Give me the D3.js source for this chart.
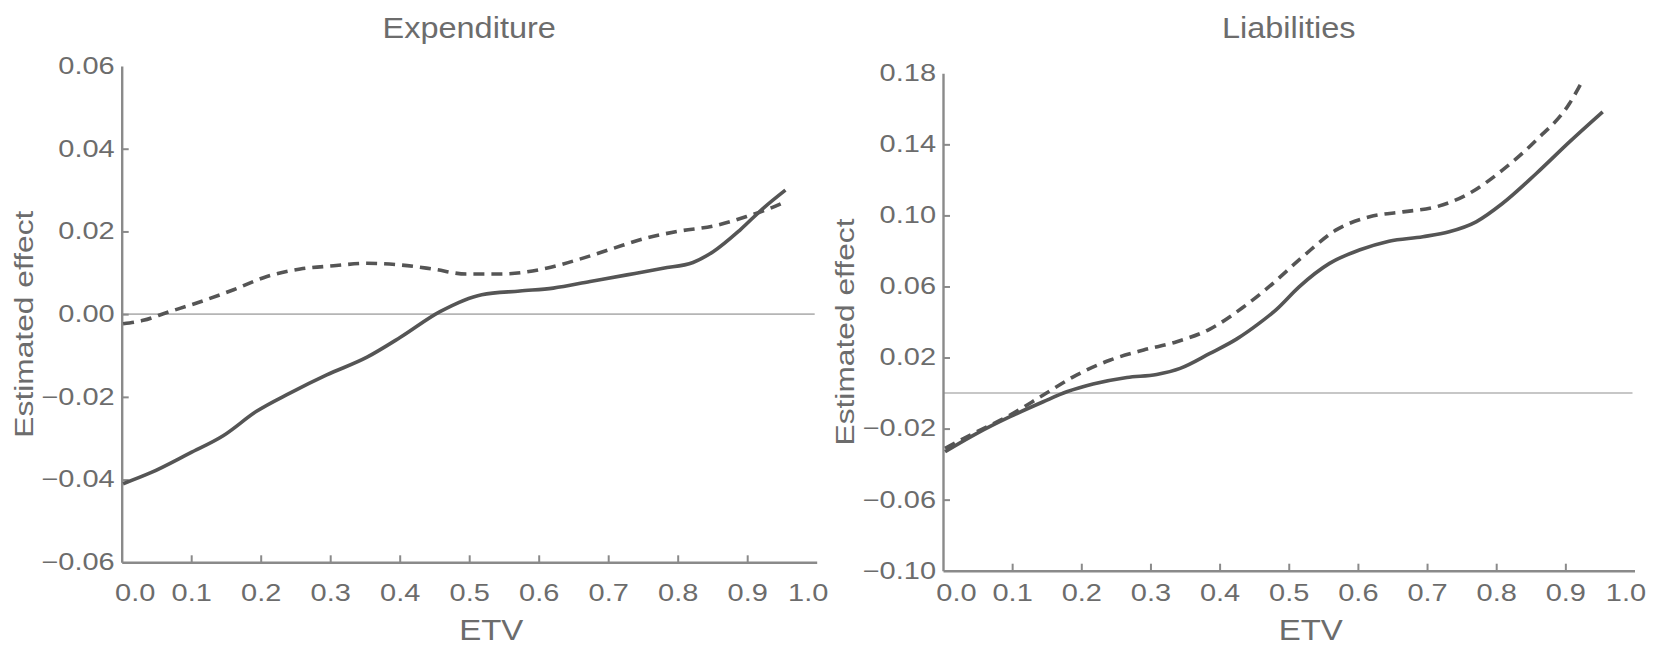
<!DOCTYPE html>
<html>
<head>
<meta charset="utf-8">
<script src="https://cdn.jsdelivr.net/npm/d3@7/dist/d3.min.js"></script>
<style>
  html, body { margin: 0; padding: 0; background: #ffffff; }
  svg { display: block; }
</style>
</head>
<body>
<svg id="chart" width="1656" height="646"></svg>
<script>
// ---------------- DATA ----------------
const panelTitles = ["Expenditure", "Liabilities"];
const xAxisTitle = "ETV";
const yAxisTitle = "Estimated effect";

const xTicks = [0.0, 0.1, 0.2, 0.3, 0.4, 0.5, 0.6, 0.7, 0.8, 0.9, 1.0];
const expYTicks = [-0.06, -0.04, -0.02, 0.00, 0.02, 0.04, 0.06];
const liabYTicks = [-0.10, -0.06, -0.02, 0.02, 0.06, 0.10, 0.14, 0.18];

// Expenditure – solid line
const expSolidETV = [0.002, 0.041, 0.098, 0.146, 0.194, 0.242, 0.295, 0.353, 0.401, 0.458, 0.518, 0.573, 0.621, 0.674, 0.727, 0.779, 0.822, 0.851, 0.890, 0.923, 0.955];
const expSolidEffect = [-0.041, -0.0384, -0.0336, -0.0294, -0.0235, -0.0191, -0.0147, -0.0104, -0.0056, 0.0006, 0.0047, 0.0056, 0.0063, 0.0079, 0.0095, 0.0111, 0.0125, 0.0151, 0.0204, 0.0256, 0.0300];

// Expenditure – dashed line
const expDashETV = [0.002, 0.031, 0.065, 0.108, 0.161, 0.209, 0.257, 0.305, 0.353, 0.401, 0.448, 0.496, 0.544, 0.611, 0.659, 0.707, 0.755, 0.803, 0.851, 0.899, 0.933, 0.955];
const expDashEffect = [-0.0023, -0.0015, 0.0004, 0.0027, 0.0059, 0.0091, 0.0109, 0.0117, 0.0123, 0.0119, 0.0109, 0.0097, 0.0097, 0.0111, 0.0133, 0.0159, 0.0184, 0.0201, 0.0213, 0.0236, 0.0256, 0.0272];

// Liabilities – solid line
const liabSolidETV = [0.003, 0.049, 0.097, 0.145, 0.179, 0.217, 0.266, 0.309, 0.343, 0.386, 0.425, 0.458, 0.482, 0.515, 0.559, 0.602, 0.645, 0.694, 0.732, 0.771, 0.809, 0.858, 0.906, 0.954];
const liabSolidEffect = [-0.033, -0.0227, -0.0133, -0.0049, 0.0007, 0.0051, 0.0088, 0.0105, 0.0139, 0.0223, 0.0305, 0.0395, 0.0470, 0.0598, 0.0730, 0.0805, 0.0855, 0.0880, 0.0908, 0.0964, 0.1067, 0.1236, 0.1414, 0.1583];

// Liabilities – dashed line
const liabDashETV = [0.003, 0.049, 0.097, 0.145, 0.193, 0.242, 0.290, 0.338, 0.386, 0.433, 0.472, 0.520, 0.568, 0.617, 0.665, 0.713, 0.761, 0.809, 0.858, 0.906, 0.925];
const liabDashEffect = [-0.0311, -0.0218, -0.0124, -0.0011, 0.0101, 0.0186, 0.0242, 0.0289, 0.0360, 0.0480, 0.0600, 0.0767, 0.0917, 0.0992, 0.1020, 0.1048, 0.1124, 0.1255, 0.1424, 0.1630, 0.1760];

// ---------------- STYLE / LAYOUT ----------------
const FONT = "'Liberation Sans', Arial, Helvetica, sans-serif";
const TEXT_COLOR = "#6c6c6c";
const AXIS_COLOR = "#8a8a8a";
const LINE_COLOR = "#555555";
const ZERO_COLOR = "#b5b5b5";

const TICK_FS = 23, TICK_SX = 1.26;
const TITLE_FS = 29, TITLE_SX = 1.12;
const XT_FS = 30, XT_SX = 1.1;
const YT_FS = 25, YT_SX = 1.27;

const svg = d3.select("#chart");
svg.append("rect").attr("width", 1656).attr("height", 646).attr("fill", "#fff");

const panels = [
  {
    title: panelTitles[0], left: 121.7, right: 816.7, top: 66, bottom: 562.3, labelPad: 22.5,
    yDomain: [-0.06, 0.06], yTicks: expYTicks,
    series: [
      { x: expSolidETV, y: expSolidEffect, dash: null },
      { x: expDashETV, y: expDashEffect, dash: "11,7" }
    ]
  },
  {
    title: panelTitles[1], left: 943, right: 1634.5, top: 73.3, bottom: 570.7, labelPad: 13.5,
    yDomain: [-0.10, 0.18], yTicks: liabYTicks,
    series: [
      { x: liabSolidETV, y: liabSolidEffect, dash: null },
      { x: liabDashETV, y: liabDashEffect, dash: "11,7" }
    ]
  }
];

panels.forEach(p => {
  const g = svg.append("g");
  const x = d3.scaleLinear().domain([0, 1]).range([p.left, p.right]);
  const y = d3.scaleLinear().domain(p.yDomain).range([p.bottom, p.top]);

  // zero reference line
  g.append("line")
    .attr("x1", x(0)).attr("x2", x(1) - 2)
    .attr("y1", y(0)).attr("y2", y(0))
    .attr("stroke", ZERO_COLOR).attr("stroke-width", 1.6);

  // y axis
  const yAxis = d3.axisLeft(y)
    .tickValues(p.yTicks)
    .tickFormat(d3.format(".2f"))
    .tickSizeInner(-7).tickSizeOuter(0)
    .tickPadding(7 / TICK_SX);
  const gy = g.append("g").attr("transform", `translate(${p.left},0)`).call(yAxis);

  // x axis
  const xAxis = d3.axisBottom(x)
    .tickValues(xTicks)
    .tickFormat(d3.format(".1f"))
    .tickSizeInner(-7).tickSizeOuter(0)
    .tickPadding(p.labelPad);
  const gx = g.append("g").attr("transform", `translate(0,${p.bottom})`).call(xAxis);

  [gx, gy].forEach(ax => {
    ax.select(".domain").attr("stroke", AXIS_COLOR).attr("stroke-width", 2.4);
    ax.selectAll(".tick line").attr("stroke", AXIS_COLOR).attr("stroke-width", 2);
    ax.selectAll(".tick text")
      .attr("fill", TEXT_COLOR)
      .style("font-family", FONT)
      .style("font-size", TICK_FS + "px")
      .attr("transform", `scale(${TICK_SX},1)`);
  });
  // no tick marks at the axis ends
  gx.selectAll(".tick").filter(d => d === 0 || d === 1).select("line").remove();
  const nY = p.yTicks.length;
  gy.selectAll(".tick").filter((d, i) => i === 0 || i === nY - 1).select("line").remove();
  // nudge end labels like the original
  gx.selectAll(".tick text").attr("x", d => d === 0 ? 13 / TICK_SX : (d === 1 ? -9 / TICK_SX : 0));

  // curves
  const line = d3.line()
    .x(d => x(d[0])).y(d => y(d[1]))
    .curve(d3.curveMonotoneX);
  p.series.forEach(s => {
    const pts = s.x.map((v, i) => [v, s.y[i]]);
    g.append("path")
      .attr("d", line(pts))
      .attr("fill", "none")
      .attr("stroke", LINE_COLOR)
      .attr("stroke-width", 3.6)
      .attr("stroke-linejoin", "round")
      .attr("stroke-dasharray", s.dash);
  });

  const cx = (p.left + p.right) / 2;
  // panel title
  g.append("text")
    .attr("transform", `translate(${cx},38) scale(${TITLE_SX},1)`)
    .attr("text-anchor", "middle")
    .attr("fill", TEXT_COLOR)
    .style("font-family", FONT).style("font-size", TITLE_FS + "px")
    .text(p.title);

  // x axis title
  g.append("text")
    .attr("transform", `translate(${cx + 22},640) scale(${XT_SX},1)`)
    .attr("text-anchor", "middle")
    .attr("fill", TEXT_COLOR)
    .style("font-family", FONT).style("font-size", XT_FS + "px")
    .text(xAxisTitle);

  // y axis title
  const cy = (p.top + p.bottom) / 2 + 10;
  g.append("text")
    .attr("transform", `translate(${p.left - 88.7},${cy}) rotate(-90) scale(${YT_SX},1)`)
    .attr("text-anchor", "middle")
    .attr("fill", TEXT_COLOR)
    .style("font-family", FONT).style("font-size", YT_FS + "px")
    .text(yAxisTitle);
});
</script>
</body>
</html>
